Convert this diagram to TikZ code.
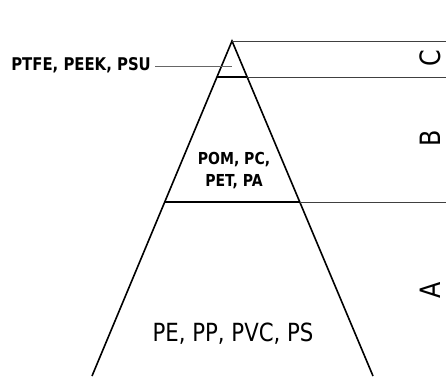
\documentclass[tikz,border=0pt]{standalone}
\usepackage{fontspec}
\setmainfont{DejaVu Sans}[FakeStretch=0.85]
\begin{document}
\begin{tikzpicture}[x=1pt,y=-1pt,
  side/.style={line width=1.6pt, black},
  fine/.style={line width=0.8pt, black!75},
  leader/.style={line width=0.7pt, black!60},
  tag/.style={font=\fontsize{18}{21}\selectfont, align=center, inner sep=0pt},
  zone/.style={font=\fontsize{28}{28}\selectfont, rotate=90, inner sep=0pt}]
\useasboundingbox (0,0) rectangle (446,376);
\clip (0,0) rectangle (446,376);
% pyramid outline
\coordinate (apex) at (232,41);
\coordinate (bl) at (92,376);
\coordinate (br) at (373,376);
\coordinate (cl) at (216.9,77);
\coordinate (cr) at (247.2,77);
\coordinate (al) at (164.7,202);
\coordinate (ar) at (299.8,202);
\coordinate (topE) at (446,41);
\coordinate (cE) at (446,77);
\coordinate (aE) at (446,202);
\draw[side] (bl) -- (apex) -- (br);
\draw[side] (cl) -- (cr);
\draw[side] (al) -- (ar);
% extension lines to the zone scale
\draw[fine] (apex) -- (topE);
\draw[fine] (cr) -- (cE);
\draw[fine] (ar) -- (aE);
% material groups
\node[tag, font=\bfseries\fontsize{17.5}{19}\selectfont, anchor=east] (ptfe) at (151,65) {PTFE, PEEK, PSU};
\coordinate (ctip) at (232,66);
\draw[leader] (ptfe.east) ++(4,1) -- (ctip);
\node[tag, font=\bfseries\fontsize{16.5}{22}\selectfont] (pom) at (234,171) {POM, PC,\\PET, PA};
\node[tag, font=\fontsize{25}{27}\selectfont] (pe) at (233,334) {PE, PP, PVC, PS};
% zone letters
\node[zone] (zc) at (430,58) {C};
\node[zone] (zb) at (430,138) {B};
\node[zone] (za) at (430,290) {A};
\end{tikzpicture}
\end{document}
